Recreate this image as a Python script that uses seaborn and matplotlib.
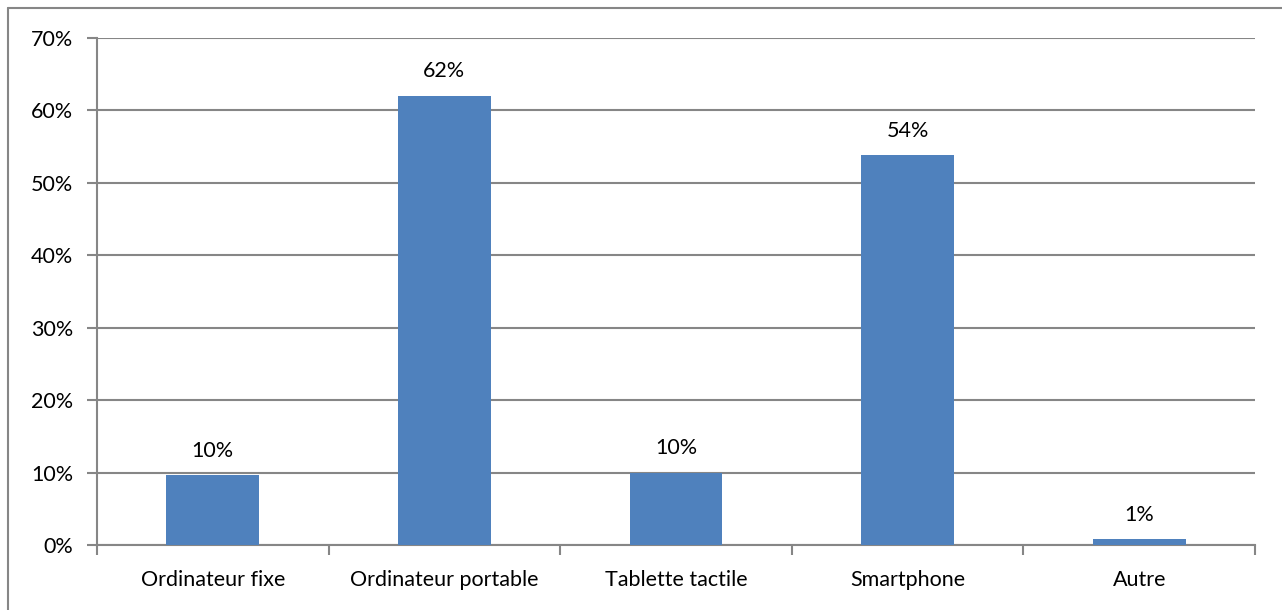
import matplotlib.pyplot as plt
import seaborn as sns
import pandas as pd
from matplotlib.ticker import FixedLocator
from matplotlib.lines import Line2D

# data
categories = ["Ordinateur fixe", "Ordinateur portable", "Tablette tactile", "Smartphone", "Autre"]
values = [9.6, 62.0, 10.0, 53.8, 0.8]
yticks = [0, 10, 20, 30, 40, 50, 60, 70]

df = pd.DataFrame({"cat": categories, "val": values})

sns.set_style("white")
plt.rcParams['font.family'] = ['Lato', 'DejaVu Sans']
plt.rcParams['text.color'] = 'black'
plt.rcParams['xtick.labelcolor'] = 'black'
plt.rcParams['ytick.labelcolor'] = 'black'

grid_col = "#868686"
fs = 15.5
fig = plt.figure(figsize=(12.82, 6.10), dpi=100)
ax = fig.add_axes([97 / 1282, 1 - 545 / 610, (1255 - 97) / 1282, (545 - 38) / 610])

sns.barplot(data=df, x="cat", y="val", color="#4F81BD", width=0.4, saturation=1,
            linewidth=0, ax=ax, zorder=3)

ax.set_xlim(-0.5, len(categories) - 0.5)
ax.set_ylim(0, 70)
ax.set_yticks(yticks)
ax.set_yticklabels([f"{t}%" for t in yticks])
ax.yaxis.grid(True, color=grid_col, linewidth=1.5, zorder=0)
ax.set_axisbelow(True)
ax.set_xlabel("")
ax.set_ylabel("")

for s in ["top", "right"]:
    ax.spines[s].set_visible(False)
for s in ["left", "bottom"]:
    ax.spines[s].set_color(grid_col)
    ax.spines[s].set_linewidth(1.5)

# category boundary ticks like Excel
ax.xaxis.set_major_locator(FixedLocator(range(len(categories))))
ax.set_xticklabels(categories)
ax.tick_params(axis="x", which="major", bottom=True, length=0, pad=18, labelsize=fs)
ax.xaxis.set_minor_locator(FixedLocator([i - 0.5 for i in range(len(categories) + 1)]))
ax.tick_params(axis="x", which="minor", bottom=True, length=7, width=1.5, color=grid_col, direction="out")
ax.tick_params(axis="y", left=True, length=7, width=1.5, color=grid_col, direction="out",
               labelsize=fs, pad=10)

for i, v in enumerate(values):
    ax.text(i, v + 2.0, f"{v:.0f}%", ha="center", va="bottom", fontsize=fs)

# outer chart border (top and left visible)
fig.add_artist(Line2D([8 / 1282, 8 / 1282], [0, 1 - 8 / 610], color=grid_col, linewidth=1.5))
fig.add_artist(Line2D([8 / 1282, 1], [1 - 8 / 610, 1 - 8 / 610], color=grid_col, linewidth=1.5))

fig.savefig("out.png", dpi=100)
